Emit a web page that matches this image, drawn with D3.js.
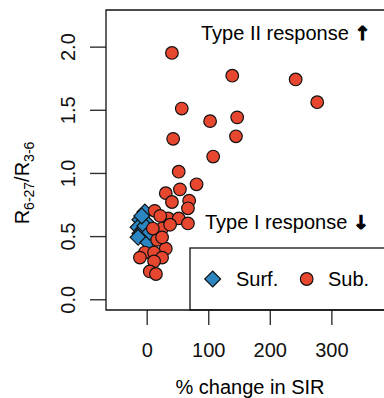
<!DOCTYPE html>
<html>
<head>
<meta charset="utf-8">
<script src="https://cdn.jsdelivr.net/npm/d3@7"></script>
<style>
  body { margin: 0; background: #fff; }
  svg { display: block; font-family: "Liberation Sans", Arial, sans-serif; }
  .tick line { stroke: #333; stroke-width: 1.4px; }
  .tick text { fill: #111; font-size: 20px; }
</style>
</head>
<body>
<div id="chart"></div>
<script>
// subsurface points (red circles): % change in SIR, R6-27/R3-6
const subX = [41, 139, 242, 277, 57, 147, 103, 43, 145, 108, 52, 81, 54, 31, 41, 69, 67, 13, 35, 52,
  67, 25, 38, 17, 31, -3, 12, 25, 12, 5, 15, 10, 25, -11, 22]
const subY = [1.95, 1.77, 1.74, 1.56, 1.51, 1.44, 1.41, 1.27, 1.29, 1.13, 1.01, 0.91, 0.87, 0.84, 0.77, 0.78, 0.72, 0.70, 0.64, 0.64,
  0.60, 0.56, 0.59, 0.47, 0.40, 0.37, 0.37, 0.33, 0.30, 0.22, 0.20, 0.56, 0.49, 0.33, 0.66]

// surface points (blue diamonds)
const surfX = [-3, -11, -1, -14, -6, -11, -3, -14, 2, 5, -8]
const surfY = [0.69, 0.63, 0.61, 0.57, 0.55, 0.52, 0.58, 0.49, 0.45, 0.53, 0.66]

const xTicks = [0, 100, 200, 300]
const yTicks = [0, 0.5, 1, 1.5, 2]

const width = 384, height = 398
const box = { left: 106, top: 10, right: 400, bottom: 310 }

const red = '#E8472F', blue = '#2C86C2'

const svg = d3.select('#chart').append('svg')
  .attr('width', width)
  .attr('height', height)

const x = d3.scaleLinear()
  .domain([-66.1, 411.5])
  .range([box.left, box.right])

const y = d3.scaleLinear()
  .domain([-0.085, 2.29])
  .range([box.bottom, box.top])

// axes
const xAxis = svg.append('g')
  .attr('transform', `translate(0,${box.bottom})`)
  .call(d3.axisBottom(x).tickValues(xTicks).tickSize(15).tickFormat(d3.format('d')))
xAxis.select('.domain').remove()
xAxis.selectAll('text')
  .attr('y', 40)
  .attr('dy', '0.35em')

const yAxis = svg.append('g')
  .attr('transform', `translate(${box.left},0)`)
  .call(d3.axisLeft(y).tickValues(yTicks).tickSize(16).tickFormat(d3.format('.1f')))
yAxis.select('.domain').remove()
yAxis.selectAll('text')
  .attr('transform', 'rotate(-90)')
  .attr('x', 0)
  .attr('y', -38)
  .attr('dy', '0.35em')
  .attr('text-anchor', 'middle')

// annotations
const addNote = (tx, ty, label, arrow) => {
  const t = svg.append('text')
    .attr('x', tx)
    .attr('y', ty)
    .attr('dy', '0.35em')
    .attr('font-size', 20)
    .text(label)
  t.append('tspan')
    .attr('font-weight', 'bold')
    .attr('font-family', 'DejaVu Sans')
    .attr('font-size', 19)
    .attr('stroke', '#000')
    .attr('stroke-width', 1)
    .text(arrow)
}
addNote(201, 33, 'Type II response ', '↑')
addNote(205, 222, 'Type I response ', '↓')

// points
const diamond = d3.symbol().type(d3.symbolSquare).size(125)

svg.append('g')
  .selectAll('path')
  .data(surfX.map((d, i) => [d, surfY[i]]))
  .join('path')
  .attr('d', diamond)
  .attr('transform', d => `translate(${x(d[0])},${y(d[1])}) rotate(45)`)
  .attr('fill', blue)
  .attr('stroke', '#111')
  .attr('stroke-width', 1.2)

svg.append('g')
  .selectAll('circle')
  .data(subX.map((d, i) => [d, subY[i]]))
  .join('circle')
  .attr('cx', d => x(d[0]))
  .attr('cy', d => y(d[1]))
  .attr('r', 6.3)
  .attr('fill', red)
  .attr('stroke', '#111')
  .attr('stroke-width', 1.2)

// legend
const lg = svg.append('g')
lg.append('rect')
  .attr('x', 190).attr('y', 248)
  .attr('width', 220).attr('height', box.bottom - 248)
  .attr('fill', '#fff')
  .attr('stroke', '#111')
  .attr('stroke-width', 1.3)
lg.append('path')
  .attr('d', diamond)
  .attr('transform', 'translate(212.7,279) rotate(45)')
  .attr('fill', blue).attr('stroke', '#111').attr('stroke-width', 1.2)
lg.append('text').attr('x', 236).attr('y', 279).attr('dy', '0.35em').attr('font-size', 20).text('Surf.')
lg.append('circle')
  .attr('cx', 306.7).attr('cy', 279).attr('r', 6.3)
  .attr('fill', red).attr('stroke', '#111').attr('stroke-width', 1.2)
lg.append('text').attr('x', 328).attr('y', 279).attr('dy', '0.35em').attr('font-size', 20).text('Sub.')

// plot box (open on the right, cut by the window)
svg.append('path')
  .attr('d', `M${box.right},${box.top}H${box.left}V${box.bottom}H${box.right}`)
  .attr('fill', 'none')
  .attr('stroke', '#111')
  .attr('stroke-width', 1.3)

// axis titles
svg.append('text')
  .attr('x', 250)
  .attr('y', 387)
  .attr('dy', '0.35em')
  .attr('text-anchor', 'middle')
  .attr('font-size', 20)
  .text('% change in SIR')

const yt = svg.append('text')
  .attr('transform', 'translate(22,183) rotate(-90)')
  .attr('text-anchor', 'middle')
  .attr('dy', '0.35em')
  .attr('font-size', 20)
yt.append('tspan').text('R')
yt.append('tspan').attr('font-size', 14).attr('dy', 5).text('6-27')
yt.append('tspan').attr('dy', -5).text('/R')
yt.append('tspan').attr('font-size', 14).attr('dy', 5).text('3-6')
</script>
</body>
</html>
